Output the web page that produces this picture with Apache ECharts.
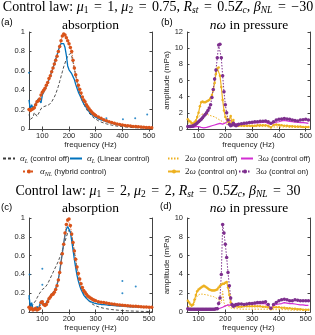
<!DOCTYPE html>
<html><head><meta charset="utf-8">
<script src="https://cdn.jsdelivr.net/npm/echarts@6/dist/echarts.min.js"></script>
<style>html,body{margin:0;padding:0;background:#fff}#c{width:315px;height:335px}</style>
</head><body><div id="c"></div>
<script>
// ---------- frequency grids (Hz) ----------
const GA = [50,55,60,65,70,75,80,85,90,95,
  100,105,110,115,120,125,130,135,140,145,
  150,155,160,165,170,175,180,185,190,195,
  200,205,210,215,220,225,230,235,240,245,
  250,255,260,265,270,275,280,285,290,295,
  300,
  310,320,330,340,350,360,370,380,390,400,
  410,420,430,440,450,460,470,480,490,500,510];
const GB = [60,65,70,75,80,85,90,95,
  100,105,110,115,120,125,130,135,140,145,
  150,155,160,165,170,175,180,185,190,195,
  200,205,210,215,220,225,230,235,240,245,
  250,
  260,270,280,290,300,310,320,330,340,350,
  360,370,380,390,400,410,420,430,440,450,
  460,470,480,490,500,510];

// ---------- panel (a): absorption ----------
const OFF_A = [0.15,0.10,0.08,0.12,0.17,0.15,0.13,0.15,0.18,0.21,
  0.22,0.23,0.235,0.24,0.245,0.25,0.26,0.28,0.30,0.33,
  0.36,0.40,0.44,0.49,0.54,0.59,0.64,0.68,0.72,0.75,
  0.77,0.78,0.75,0.69,0.62,0.55,0.48,0.42,0.37,0.33,
  0.29,0.26,0.23,0.205,0.185,0.165,0.15,0.135,0.122,0.11,
  0.10,
  0.085,0.072,0.062,0.053,0.046,0.04,0.035,0.03,0.027,0.024,
  0.021,0.019,0.017,0.015,0.013,0.012,0.011,0.01,0.009,0.008,0.008];
const LIN_A = [0.30,0.20,0.25,0.21,0.23,0.26,0.28,0.31,0.29,0.27,
  0.35,0.38,0.40,0.44,0.47,0.51,0.55,0.59,0.63,0.67,
  0.72,0.76,0.81,0.85,0.88,0.90,0.88,0.84,0.76,0.65,
  0.61,0.59,0.57,0.54,0.51,0.46,0.42,0.38,0.35,0.32,
  0.29,0.26,0.24,0.22,0.20,0.18,0.165,0.15,0.14,0.13,
  0.12,
  0.105,0.095,0.085,0.075,0.068,0.06,0.053,0.047,0.042,0.038,
  0.034,0.03,0.027,0.025,0.023,0.021,0.019,0.017,0.016,0.015,0.014];
const HYB_A = [0.20,0.19,0.20,0.21,0.22,0.25,0.28,0.29,0.31,0.35,
  0.38,0.40,0.42,0.45,0.48,0.52,0.55,0.59,0.63,0.67,
  0.71,0.75,0.80,0.85,0.91,0.96,0.98,0.97,0.94,0.91,
  0.88,0.84,0.80,0.71,0.63,0.56,0.50,0.45,0.41,0.37,
  0.33,0.30,0.28,0.25,0.23,0.21,0.19,0.175,0.16,0.15,
  0.14,
  0.125,0.11,0.095,0.085,0.075,0.067,0.06,0.052,0.046,0.041,
  0.037,0.033,0.03,0.027,0.025,0.022,0.02,0.018,0.016,0.015,0.014];
const DOTS_A_F = [50,340,402,448,493];
const DOTS_A_V = [0.58,0.11,0.10,0.11,0.15];

// ---------- panel (c): absorption ----------
const OFF_C = [0.15,0.08,0.05,0.08,0.10,0.12,0.15,0.17,0.20,0.22,
  0.24,0.25,0.26,0.27,0.30,0.33,0.36,0.39,0.42,0.45,
  0.48,0.51,0.54,0.58,0.62,0.66,0.70,0.75,0.80,0.84,
  0.87,0.87,0.82,0.74,0.64,0.54,0.45,0.38,0.32,0.27,
  0.23,0.195,0.17,0.15,0.13,0.115,0.10,0.09,0.08,0.072,
  0.065,
  0.055,0.047,0.04,0.035,0.03,0.026,0.023,0.02,0.018,0.016,
  0.014,0.012,0.011,0.01,0.009,0.008,0.007,0.006,0.006,0.005,0.005];
const LIN_C = [0.18,0.05,0.10,0.03,0.05,0.02,0.06,0.03,0.02,0.12,
  0.08,0.09,0.08,0.09,0.12,0.15,0.17,0.19,0.20,0.22,
  0.25,0.29,0.35,0.43,0.53,0.63,0.73,0.82,0.88,0.91,
  0.90,0.85,0.76,0.66,0.56,0.47,0.39,0.33,0.28,0.24,
  0.21,0.18,0.16,0.145,0.13,0.12,0.11,0.105,0.10,0.095,
  0.09,
  0.085,0.08,0.078,0.075,0.072,0.07,0.068,0.066,0.064,0.062,
  0.06,0.058,0.056,0.055,0.054,0.053,0.052,0.051,0.05,0.05,0.05];
const HYB_C = [0.05,0.03,0.04,0.02,0.03,0.04,0.02,0.03,0.04,0.10,
  0.11,0.08,0.07,0.08,0.11,0.14,0.16,0.18,0.19,0.21,
  0.24,0.28,0.34,0.42,0.52,0.62,0.72,0.84,0.93,0.98,
  0.99,0.92,0.83,0.74,0.65,0.56,0.48,0.41,0.35,0.30,
  0.26,0.23,0.21,0.19,0.17,0.16,0.15,0.14,0.13,0.125,
  0.12,
  0.11,0.105,0.10,0.095,0.09,0.085,0.082,0.078,0.075,0.072,
  0.07,0.067,0.065,0.062,0.06,0.058,0.056,0.054,0.052,0.05,0.05];
const DOTS_C_F = [52,100,100,400,400,450];
const DOTS_C_V = [0.40,0.46,0.29,0.33,0.20,0.27];

// ---------- panel (b): harmonics (mPa) ----------
const W2OFF_B = [0.8,0.7,0.6,0.7,0.8,1.0,1.2,1.4,
  1.5,1.7,1.8,1.9,1.9,1.9,1.85,1.8,1.7,1.65,
  1.6,1.55,1.5,1.4,1.3,1.2,1.1,1.0,0.9,0.8,
  0.7,0.6,0.5,1.0,0.5,0.6,0.4,0.35,0.35,0.35,
  0.35,
  0.35,0.3,0.3,0.3,0.3,0.3,0.3,0.3,0.3,0.3,
  0.25,0.25,0.25,0.25,0.25,0.25,0.25,0.25,0.2,0.2,
  0.2,0.2,0.2,0.2,0.2,0.2];
const W3OFF_B = [0.25,0.25,0.2,0.2,0.2,0.25,0.3,0.3,
  0.3,0.25,0.2,0.15,0.15,0.2,0.2,0.25,0.3,0.35,
  0.4,0.45,0.5,0.55,0.6,0.65,0.7,0.65,0.6,0.7,
  0.75,0.85,1.0,1.15,1.05,0.8,0.65,0.65,0.7,0.65,
  0.6,
  0.55,0.6,0.65,0.7,0.75,0.75,0.8,0.8,0.85,0.85,
  0.7,0.6,0.75,0.85,0.9,1.0,1.05,1.0,0.95,0.9,
  0.85,0.85,0.8,0.8,0.75,0.7];
const W2ON_B = [1.2,1.0,0.9,0.7,0.6,0.8,1.0,1.5,
  2.0,2.8,3.3,3.4,3.3,3.3,3.4,3.5,3.6,3.8,
  4.2,4.8,5.7,6.8,7.5,7.6,6.6,5.2,3.6,2.3,
  1.5,1.2,0.9,0.8,1.6,0.6,1.1,0.5,0.4,0.5,
  0.4,
  0.4,0.4,0.4,0.4,0.4,0.4,0.45,0.45,0.45,0.45,
  0.4,0.2,0.5,0.55,0.5,0.45,0.4,0.4,0.35,0.35,
  0.3,0.3,0.3,0.25,0.25,0.25];
const W3ON_B = [0.3,0.3,0.3,0.35,0.4,0.5,0.6,0.75,
  0.9,1.05,1.2,1.4,1.6,1.8,2.0,2.3,2.6,3.0,
  3.9,4.9,6.2,7.3,8.8,10.4,10.5,8.8,6.6,4.6,
  3.0,2.0,1.1,0.6,0.4,0.5,0.7,0.5,0.4,0.5,
  0.6,
  0.65,0.7,0.75,0.8,0.85,0.9,0.9,0.95,0.95,1.0,
  0.9,0.7,0.9,1.1,1.2,1.25,1.3,1.25,1.2,1.1,
  1.05,1.0,1.1,1.15,1.2,1.1];

// ---------- panel (d): harmonics (mPa) ----------
const W2OFF_D = [0.6,0.6,0.5,0.5,0.7,1.0,1.4,1.7,
  1.8,1.9,1.9,1.9,1.9,1.85,1.8,1.8,1.75,1.7,
  1.7,1.65,1.6,1.5,1.4,1.3,1.2,1.0,2.2,1.0,
  0.6,0.5,0.8,0.5,0.4,0.4,0.35,0.35,0.35,0.35,
  0.35,
  0.3,0.3,0.3,0.3,0.3,0.3,0.3,0.3,0.3,0.3,
  0.3,0.25,0.25,0.25,0.25,0.25,0.25,0.25,0.2,0.2,
  0.2,0.2,0.2,0.2,0.2,0.2];
const W3OFF_D = [0.3,0.3,0.25,0.25,0.25,0.2,0.2,0.2,
  0.2,0.2,0.2,0.2,0.2,0.2,0.2,0.2,0.2,0.2,
  0.25,0.25,0.3,0.3,0.3,0.35,0.4,0.45,0.5,0.6,
  0.65,0.7,0.75,0.75,0.7,0.75,0.8,0.8,0.85,0.85,
  0.9,
  0.85,0.8,0.8,0.85,0.85,0.85,0.9,0.9,0.9,0.9,
  0.6,0.4,0.7,0.8,0.85,0.9,1.0,0.95,0.9,0.9,
  0.85,0.8,0.75,0.75,0.7,0.7];
const W2ON_D = [1.2,1.0,0.8,0.7,0.8,1.3,1.8,2.2,
  2.4,2.5,2.6,2.7,2.8,2.7,2.6,2.5,2.4,2.35,
  2.3,2.3,2.3,2.35,2.4,2.6,2.8,2.9,3.0,3.0,
  3.1,3.2,2.6,1.8,1.0,0.7,0.6,0.6,0.6,0.6,
  0.55,
  0.55,0.6,0.6,0.6,0.6,0.6,0.6,0.6,0.55,0.55,
  0.5,0.3,0.5,0.5,0.5,0.45,0.45,0.4,0.4,0.35,
  0.35,0.3,0.3,0.25,0.25,0.25];
const W3ON_D = [0.35,0.3,0.3,0.3,0.3,0.3,0.3,0.3,
  0.3,0.3,0.3,0.3,0.3,0.3,0.3,0.3,0.3,0.3,
  0.3,0.3,0.3,0.35,0.35,0.9,1.5,4.0,9.3,8.4,
  7.2,5.8,4.2,2.8,1.5,0.8,0.6,0.7,0.8,0.8,
  0.85,
  0.85,0.8,0.85,0.9,0.9,0.95,1.0,1.0,1.05,1.1,
  0.8,0.4,0.8,1.0,1.2,1.3,1.35,1.3,1.2,1.2,
  1.3,1.25,1.2,1.2,1.2,1.2];

const X_TICKS = [100,200,300,400,500];

// ---------- styling ----------
const SANS = 'Liberation Sans';
const SERIF = 'Liberation Serif';
const C_OFF = '#3a3a3a', C_LIN = '#0072BD', C_HYB = '#D95319',
      C_Y = '#EDB120', C_M = '#D22DD2', C_P = '#7E2F8E';
const AX = '#444';

function pts(f, v) { return f.map((x, i) => [x, v[i]]); }

const grids = [
  {left: 29, top: 32, width: 123, height: 97},
  {left: 187, top: 32, width: 124, height: 97},
  {left: 29, top: 218, width: 123, height: 94},
  {left: 187, top: 218, width: 124, height: 94}
];
const xr = [[50, 511], [57, 516], [50, 511], [57, 516]];
const yr = [[0, 1, 0.2], [0, 12, 2], [0, 1, 0.2], [0, 10, 2]];

const xAxis = [], yAxis = [];
grids.forEach((g, i) => {
  const common = {
    type: 'value', gridIndex: i, min: xr[i][0], max: xr[i][1],
    splitLine: {show: false},
    axisLine: {lineStyle: {color: AX, width: 1}},
    axisTick: {inside: true, length: 2.5, customValues: X_TICKS, lineStyle: {color: AX}}
  };
  xAxis.push(Object.assign({}, common, {
    position: 'bottom',
    axisLabel: {customValues: X_TICKS, fontFamily: SANS, fontSize: 7.5, color: '#262626', margin: 3},
    name: 'frequency (Hz)', nameLocation: 'middle', nameGap: 12,
    nameTextStyle: {fontFamily: SANS, fontSize: 8, color: '#262626'}
  }));
  xAxis.push(Object.assign({}, common, {position: 'top', axisLabel: {show: false}}));
  const yc = {
    type: 'value', gridIndex: i, min: yr[i][0], max: yr[i][1], interval: yr[i][2],
    splitLine: {show: false},
    axisLine: {show: true, lineStyle: {color: AX, width: 1}},
    axisTick: {show: true, inside: true, length: 2.5, lineStyle: {color: AX}}
  };
  const yl = Object.assign({}, yc, {
    position: 'left',
    axisLabel: {fontFamily: SANS, fontSize: 7.5, color: '#262626', margin: 4}
  });
  if (i === 1 || i === 3) {
    yl.name = 'amplitude (mPa)';
    yl.nameLocation = 'middle';
    yl.nameGap = 16;
    yl.nameTextStyle = {fontFamily: SANS, fontSize: 8, color: '#262626'};
  }
  yAxis.push(yl);
  yAxis.push(Object.assign({}, yc, {position: 'right', axisLabel: {show: false}}));
});

function line(name, g, f, v, st) {
  return Object.assign({
    type: 'line', name: name, xAxisIndex: 2 * g, yAxisIndex: 2 * g,
    data: pts(f, v), animation: false, symbol: 'none', showAllSymbol: true,
    emphasis: {disabled: true}
  }, st);
}
const S_OFF = {lineStyle: {color: C_OFF, width: 0.9, type: [3, 2]}, itemStyle: {color: C_OFF}};
const S_LIN = {lineStyle: {color: C_LIN, width: 1.3}, itemStyle: {color: C_LIN}};
const S_HYB = {symbol: 'circle', symbolSize: 3.5, showSymbol: true,
  lineStyle: {color: C_HYB, width: 1, type: 'dotted'}, itemStyle: {color: C_HYB}};
const S_W2OFF = {lineStyle: {color: C_Y, width: 1, type: [1.5, 1.5]}, itemStyle: {color: C_Y}};
const S_W3OFF = {lineStyle: {color: C_M, width: 1.2}, itemStyle: {color: C_M}};
const S_W2ON = {symbol: 'circle', symbolSize: 2.5, showSymbol: true,
  lineStyle: {color: C_Y, width: 1.2}, itemStyle: {color: C_Y}};
const S_W3ON = {symbol: 'circle', symbolSize: 3.5, showSymbol: true,
  lineStyle: {color: C_P, width: 1, type: [1.5, 1.5]}, itemStyle: {color: C_P}};

function dots(g, f, v) {
  return {type: 'scatter', xAxisIndex: 2 * g, yAxisIndex: 2 * g, data: pts(f, v),
    symbolSize: 2, itemStyle: {color: C_LIN}, animation: false, silent: true};
}

const series = [
  line('off', 0, GA, OFF_A, S_OFF),
  line('lin', 0, GA, LIN_A, S_LIN),
  dots(0, DOTS_A_F, DOTS_A_V),
  line('hyb', 0, GA, HYB_A, S_HYB),
  line('w2off', 1, GB, W2OFF_B, S_W2OFF),
  line('w3off', 1, GB, W3OFF_B, S_W3OFF),
  line('w2on', 1, GB, W2ON_B, S_W2ON),
  line('w3on', 1, GB, W3ON_B, S_W3ON),
  line('off', 2, GA, OFF_C, S_OFF),
  line('lin', 2, GA, LIN_C, S_LIN),
  dots(2, DOTS_C_F, DOTS_C_V),
  line('hyb', 2, GA, HYB_C, S_HYB),
  line('w2off', 3, GB, W2OFF_D, S_W2OFF),
  line('w3off', 3, GB, W3OFF_D, S_W3OFF),
  line('w2on', 3, GB, W2ON_D, S_W2ON),
  line('w3on', 3, GB, W3ON_D, S_W3ON)
];

const LBL = {
  off: '{g|α}{s|L}{t| (control off)}',
  lin: '{g|α}{s|L}{t| (Linear control)}',
  hyb: '{g|α}{s|NL}{t| (hybrid control)}',
  w2off: '{n|2}{g|ω}{t| (control off)}',
  w3off: '{n|3}{g|ω}{t| (control off)}',
  w2on: '{n|2}{g|ω}{t| (control on)}',
  w3on: '{n|3}{g|ω}{t| (control on)}'
};
const legRich = {
  g: {fontFamily: SERIF, fontStyle: 'italic', fontSize: 9, lineHeight: 11, color: '#222'},
  n: {fontFamily: SERIF, fontSize: 9, lineHeight: 11, color: '#222'},
  s: {fontFamily: SERIF, fontStyle: 'italic', fontSize: 6, lineHeight: 5, verticalAlign: 'bottom', color: '#222'},
  t: {fontFamily: SANS, fontSize: 7.8, lineHeight: 11, color: '#222'}
};
// [series key, icon left, row top, series has markers]
const legPos = [
  ['off', 2, 154, false], ['lin', 69, 154, false], ['w2off', 167, 154, false], ['w3off', 240, 154, false],
  ['hyb', 22, 167, true], ['w2on', 167, 167, true], ['w3on', 238, 167, true]
];
const legend = legPos.map(p => ({
  data: [p[3] ? {name: p[0]} : {name: p[0], itemStyle: {opacity: 0}}],
  left: p[1], top: p[2], padding: 0, itemWidth: 12, itemHeight: 5,
  selectedMode: false, formatter: n => LBL[n],
  textStyle: {rich: legRich}
}));

const tRich = {
  t: {fontFamily: SERIF, fontSize: 14, lineHeight: 16, fill: '#000'},
  q: {fontFamily: SERIF, fontSize: 14, lineHeight: 16, fill: '#000', padding: [0, 5.5, 0, 5.5]},
  i: {fontFamily: SERIF, fontStyle: 'italic', fontSize: 14, lineHeight: 16, fill: '#000'},
  s: {fontFamily: SERIF, fontSize: 9.5, lineHeight: 7, verticalAlign: 'bottom', fill: '#000'},
  si: {fontFamily: SERIF, fontStyle: 'italic', fontSize: 9.5, lineHeight: 7, verticalAlign: 'bottom', fill: '#000'}
};
const pRich = {
  t: {fontFamily: SERIF, fontSize: 13.5, lineHeight: 15, fill: '#000'},
  i: {fontFamily: SERIF, fontStyle: 'italic', fontSize: 13.5, lineHeight: 15, fill: '#000'}
};
function txt(x, y, text, rich, align) {
  return {type: 'text', x: x, y: y, silent: true,
    style: {text: text, rich: rich, align: align || 'center', verticalAlign: 'middle'}};
}
function lab(x, y, text) {
  return {type: 'text', x: x, y: y, silent: true,
    style: {text: text, font: '9.5px ' + SANS, fill: '#000', align: 'left', verticalAlign: 'middle'}};
}
const T1 = '{t|Control law: }{i|μ}{s|1}{q|=}{t|1, }{i|μ}{s|2}{q|=}{t|0.75, }{i|R}{si|st}{q|=}{t|0.5}{i|Z}{si|c}{t|, }{i|β}{si|NL}{q|=}{t|−30}';
const T2 = '{t|Control law: }{i|μ}{s|1}{q|=}{t|2, }{i|μ}{s|2}{q|=}{t|2, }{i|R}{si|st}{q|=}{t|0.5}{i|Z}{si|c}{t|, }{i|β}{si|NL}{q|=}{t|30}';
const graphic = [
  txt(158, 7, T1, tRich),
  lab(1, 22, '(a)'),
  txt(90.5, 25, '{t|absorption}', pRich),
  lab(161, 22, '(b)'),
  txt(249, 25, '{i|nω}{t| in pressure}', pRich),
  txt(158, 191, T2, tRich),
  lab(1, 207, '(c)'),
  txt(90.5, 208, '{t|absorption}', pRich),
  lab(160, 206, '(d)'),
  txt(249, 208, '{i|nω}{t| in pressure}', pRich)
];

const chart = echarts.init(document.getElementById('c'), null, {renderer: 'canvas'});
chart.setOption({
  animation: false,
  backgroundColor: '#fff',
  grid: grids,
  xAxis: xAxis,
  yAxis: yAxis,
  legend: legend,
  series: series,
  graphic: graphic
});
</script></body></html>
